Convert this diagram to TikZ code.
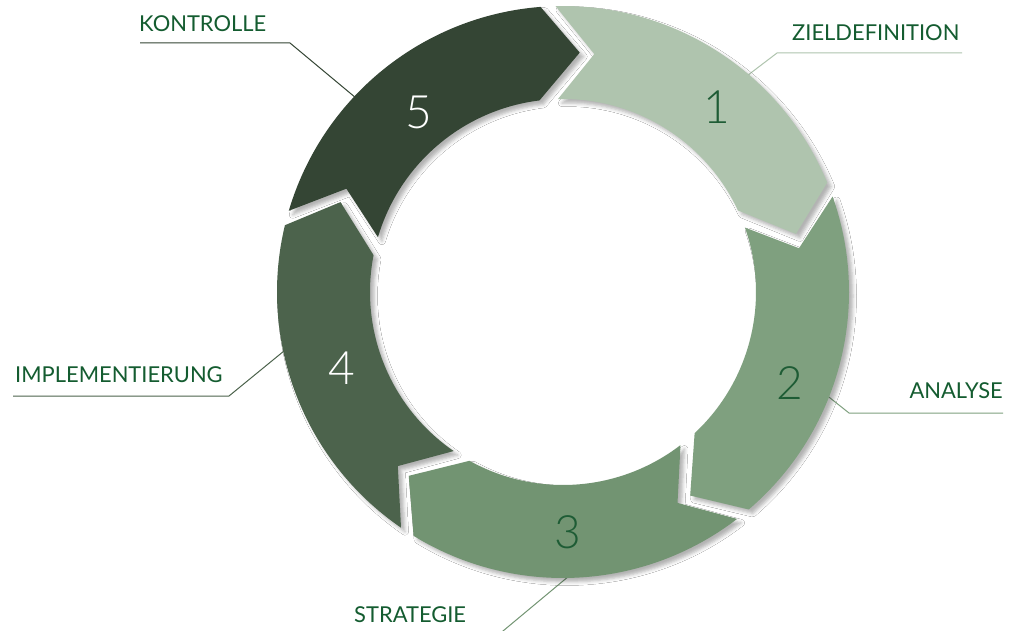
\documentclass[tikz,border=0pt]{standalone}
\usepackage{fontspec}
\setmainfont{Lato}
\newfontfamily\numfont{Lato Light}
\usetikzlibrary{shadows.blur}
\definecolor{cA}{HTML}{AFC4AE}
\definecolor{cB}{HTML}{7FA07F}
\definecolor{cC}{HTML}{729472}
\definecolor{cD}{HTML}{4C634C}
\definecolor{cE}{HTML}{344534}
\definecolor{txt}{HTML}{145C30}
\definecolor{numg}{HTML}{1E5C35}
\begin{document}
\begin{tikzpicture}[x=1pt,y=1pt,
  seg/.style={blur shadow={shadow xshift=4pt,shadow yshift=-4pt,shadow blur radius=3.5pt,shadow opacity=30}},
  lbl/.style={font=\fontsize{21.9}{26}\selectfont, text=txt, inner sep=0pt},
  num/.style={font=\numfont\fontsize{46}{50}\selectfont, inner sep=0pt},
  leader/.style={line width=1pt}]
\useasboundingbox (0,0) rectangle (1018,-631);
\fill[white] (0,0) rectangle (1018,-631);

% labels
\node[lbl, anchor=base west] (lz) at (792,-41) {ZIELDEFINITION};
\node[lbl, anchor=base east] (la) at (1003,-398) {ANALYSE};
\node[lbl, anchor=base west] (ls) at (354,-622) {STRATEGIE};
\node[lbl, anchor=base west] (li) at (15,-382) {IMPLEMENTIERUNG};
\node[lbl, anchor=base west] (lk) at (139,-32) {KONTROLLE};

% leader coordinates
\coordinate (z0) at (962,-53); \coordinate (z1) at (777,-53); \coordinate (z2) at (735,-85);
\coordinate (a0) at (1003,-413); \coordinate (a1) at (849,-413); \coordinate (a2) at (815,-386);
\coordinate (s0) at (340,-636); \coordinate (s1) at (497,-636); \coordinate (s2) at (575,-571);
\coordinate (i0) at (13,-396); \coordinate (i1) at (229,-396); \coordinate (i2) at (295,-342);
\coordinate (k0) at (140,-43); \coordinate (k1) at (290,-43); \coordinate (k2) at (368,-108);

\draw[leader, cA] (z0) -- (z1) -- (z2);
\draw[leader, cB] (a0) -- (a1) -- (a2);
\draw[leader, cC] (s0) -- (s1) -- (s2);
\draw[leader, cD] (i0) -- (i1) -- (i2);
\draw[leader, cE] (k0) -- (k1) -- (k2);

% ring segments
\begin{scope}[shift={(563,-292)}]
\foreach \T/\c in {91.5/cA, 19.5/cB, -52.5/cC, -124.5/cD, -196.5/cE}
  \fill[\c, seg] (\T:286) arc[start angle=\T, end angle=\T-69, radius=286]
     -- (\T-77.5:240) -- (\T-66.5:193)
     arc[start angle=\T-66.5, end angle=\T, radius=193]
     -- (\T-9:240) -- cycle;
\end{scope}

% numbers
\node[num, text=numg] (n1) at (717,-107) {1};
\node[num, text=numg] (n2) at (790,-383) {2};
\node[num, text=numg] (n3) at (568,-532) {3};
\node[num, text=white] (n4) at (342,-368) {4};
\node[num, text=white] (n5) at (419,-112) {5};
\end{tikzpicture}
\end{document}
